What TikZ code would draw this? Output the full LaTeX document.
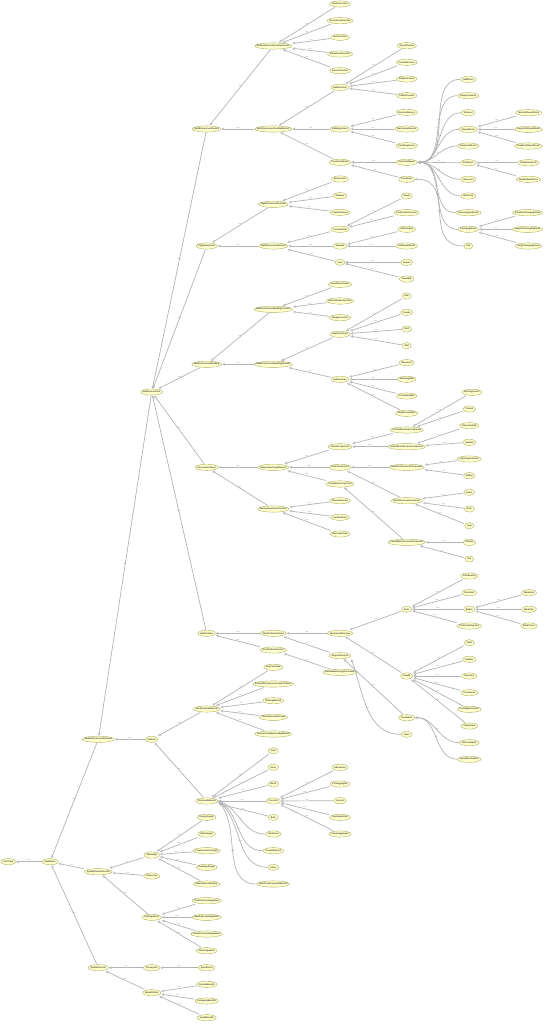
\documentclass[tikz,border=0pt]{standalone}
\usepackage{fontspec}
\newfontfamily\ogfont{Liberation Sans}
\usetikzlibrary{arrows.meta,calc}
\definecolor{nfill}{RGB}{255,255,204}
\definecolor{nline}{RGB}{175,175,105}
\definecolor{eline}{RGB}{180,180,180}
\definecolor{ltext}{RGB}{120,120,120}
\newcommand\ogsize{\ogfont\fontsize{2.25pt}{2.6pt}\selectfont}
\newcommand\onode[4]{\node[obox] (#1) at (#2,#3) {#4};}
\newcommand\isa[2]{\draw[isa] (#1) -- node[lbl]{is-a} (#2);}
\newcommand\isac[3]{\draw[isa] (#1) to[#3] node[lbl]{is-a} (#2);}
\tikzset{
 obox/.style={rectangle, inner xsep=2.6pt, inner ysep=0pt, minimum height=6.6pt, font=\ogsize, text=black,
   path picture={\path[fill=nfill, draw=nline, line width=0.4pt] let \p1=(path picture bounding box.south west), \p2=(path picture bounding box.north east) in ($(\p1)!0.5!(\p2)$) ellipse ({(\x2-\x1)/2-0.2pt} and {(\y2-\y1)/2-0.2pt});}},
 isa/.style={draw=eline, line width=0.7pt, -{Triangle[open, length=2.6pt, width=2.6pt, line width=0.45pt]}},
 lbl/.style={font=\ogfont\fontsize{1.7pt}{2pt}\selectfont, text=ltext, inner sep=0.4pt, above}
}
\begin{document}
\begin{tikzpicture}[x=1pt,y=-1pt]
\useasboundingbox[fill=white] (0,0) rectangle (549,1024);
% ---- spine
\onode{thing}{8.3}{861.7}{owl:Thing}
\onode{sp}{50}{861.7}{SpatialPlan}
\onode{spde}{98.3}{739.3}{SpatialPlanDomainElement}
\onode{spsd}{98.3}{871.7}{SpatialPlanSiteDomain}
\onode{spu}{98.3}{967.7}{SpatialPlanUse}
\onode{be}{151.7}{392}{BuiltEnvironment}
\onode{mat}{151.7}{739.3}{Material}
\onode{bef}{206.7}{129}{BuiltEnvironmentFacility}
\onode{dp}{206.7}{246}{DigitalPavement}
\onode{beb}{206.7}{364.3}{BuiltEnvironmentBuilding}
\onode{ot}{206.7}{467.3}{ObservationTower}
\onode{wt}{206.7}{633.3}{WindTurbine}
% ---- facility
\onode{beff}{273.3}{46}{BuiltEnvironmentFacilityFunction}
\onode{befe}{273.3}{129}{BuiltEnvironmentFacilityElement}
\onode{ff1}{340}{4}{ShelterFunction}
\onode{ff2}{340}{20.7}{RecreationalFunction}
\onode{ff3}{340}{37.3}{SportFunction}
\onode{ff4}{340}{54}{EducationalFunction}
\onode{ff5}{340}{70.7}{ServiceFunction}
\onode{bs}{340}{87.3}{BuiltStructure}
\onode{bsv}{340}{129}{BuildingService}
\onode{fs}{340}{162.3}{FunctionalSpace}
\onode{bs1}{406.7}{45.7}{OpenStructure}
\onode{bs2}{406.7}{62.3}{ClosedStructure}
\onode{bs3}{406.7}{79}{ShadeStructure}
\onode{bs4}{406.7}{95.7}{TrafficStructure}
\onode{sv1}{406.7}{112.3}{ElectricalService}
\onode{sv2}{406.7}{129}{MechanicalService}
\onode{sv3}{406.7}{145.7}{PlumbingService}
\onode{hs}{406.7}{162.3}{HorizontalSpace}
\onode{fsp}{406.7}{179.3}{FreeSpace}
\onode{unit}{468.3}{246}{Unit}
\onode{h1}{468.3}{79.3}{StaffRoom}
\onode{h2}{468.3}{95.7}{ReceptionRoom}
\onode{h3}{468.3}{112.7}{Entrance}
\onode{h4}{468.3}{129.3}{SharedRoom}
\onode{h5}{468.3}{146}{EquipmentRoom}
\onode{h6}{468.3}{162.7}{RestRoom}
\onode{h7}{468.3}{179.3}{Storeroom}
\onode{h8}{468.3}{196}{Workshop}
\onode{h9}{468.3}{212.7}{CleaningAgentRoom}
\onode{h10}{468.3}{229.3}{ChangingRoom}
\onode{sh1}{528.5}{112.7}{TwoUnitSharedRoom}
\onode{sh2}{528.5}{129.3}{LargeUnitSharedRoom}
\onode{sh3}{528.5}{146}{SmallUnitSharedRoom}
\onode{rr1}{528.5}{162.7}{SingleRestRoom}
\onode{rr2}{528.5}{179.3}{DisabledRestRoom}
\onode{cr1}{527.5}{212.7}{SmallUnitChangingRoom}
\onode{cr2}{527.5}{229.3}{LargeUnitChangingRoom}
\onode{cr3}{528.5}{246}{SingleChangingRoom}
% ---- pavement
\onode{dpf}{273.3}{204.3}{DigitalPavementFunction}
\onode{dpe}{273.3}{246}{DigitalPavementElement}
\onode{pf1}{340}{179}{BicycleLane}
\onode{pf2}{340}{195.7}{Walkway}
\onode{pf3}{340}{212.3}{PedestrianArea}
\onode{cs}{340}{229.3}{ConcreteSlab}
\onode{sb}{340}{246}{Subbase}
\onode{jt}{340}{262.3}{Joint}
\onode{cs1}{406.7}{196}{Dowel}
\onode{cs2}{406.7}{212.7}{FirstProtectionLayer}
\onode{sb1}{406.7}{229.3}{SoilCategory}
\onode{sb2}{406.7}{246}{SubbaseMaterial}
\onode{jt1}{406.7}{262.3}{Sealant}
\onode{jt2}{406.7}{279}{DowelBar}
% ---- building
\onode{bebf}{273.3}{309.3}{BuiltEnvironmentBuildingFunction}
\onode{bebe}{273.3}{364.3}{BuiltEnvironmentBuildingElement}
\onode{bf1}{340}{284.3}{AssemblyFunction}
\onode{bf2}{340}{301}{AdministrativeFunction}
\onode{bf3}{340}{317.7}{StorageFunction}
\onode{sup}{340}{334.3}{SuperStructure}
\onode{sub}{340}{379.3}{SubStructure}
\onode{su1}{406.7}{296}{Slab}
\onode{su2}{406.7}{312.3}{Facade}
\onode{su3}{406.7}{329}{Roof}
\onode{su4}{406.7}{345.7}{Wall}
\onode{sub1}{406.7}{362.7}{Basement}
\onode{sub2}{406.7}{379.3}{RetainingWall}
\onode{sub3}{406.7}{396}{FoundationWall}
\onode{sub4}{406.7}{413.3}{SingleFoundation}
% ---- observation tower
\onode{ote}{273.3}{467.3}{ObservationTowerElement}
\onode{otf}{273.3}{509}{ObservationTowerFunction}
\onode{vc}{340}{446.7}{VerticalComponent}
\onode{dc}{340}{467.3}{DeckComponent}
\onode{fc}{340}{484}{FoundationComponent}
\onode{of1}{340}{500.7}{ObservationUse}
\onode{of2}{340}{517.3}{LandmarkUse}
\onode{of3}{340}{534}{RecreationUse}
\onode{vsc}{406.7}{430}{VerticalStructuralComponent}
\onode{vnsc}{406.7}{446.7}{VerticalNonStructuralComponent}
\onode{dnsc}{406.7}{467.3}{DeckNonStructuralComponent}
\onode{dsc}{406.7}{500.7}{DeckStructuralComponent}
\onode{fsc}{406.7}{542.3}{FoundationStructuralComponent}
\onode{v1}{472}{392.3}{BracingSystem}
\onode{v2}{469.3}{409}{Column}
\onode{n1}{469.3}{425.7}{StaircaseShaft}
\onode{n2}{469.3}{442.3}{Handrail}
\onode{d1}{469.3}{459}{LightningProtection}
\onode{d2}{469.3}{475.7}{Railing}
\onode{s1}{469.3}{492.3}{Beam}
\onode{s2}{469.3}{509}{Deck}
\onode{s3}{469.3}{525.7}{Joist}
\onode{f1}{469.3}{542.3}{PileCap}
\onode{f2}{469.3}{559}{Pile}
% ---- wind turbine
\onode{wte}{273.3}{633.3}{WindTurbineElement}
\onode{wtf}{273.3}{650}{WindTurbineFunction}
\onode{ms}{340}{633.3}{MechanicalStructure}
\onode{sups}{340}{655.7}{SupportStructure}
\onode{reg}{340}{672.3}{RenewableEnergyGeneration}
\onode{rot}{406.7}{609.3}{Rotor}
\onode{nac}{406.7}{676}{Nacelle}
\onode{r1}{469.3}{576}{PitchBearing}
\onode{r2}{469.3}{592.7}{RotorHub}
\onode{bl}{469.3}{609.3}{Blades}
\onode{r4}{469.3}{626}{PitchControlSystem}
\onode{b1}{529}{592.7}{BladeOne}
\onode{b2}{529}{609.3}{BladeTwo}
\onode{b3}{529}{626}{BladeThree}
\onode{na1}{469.3}{642.7}{Shaft}
\onode{na2}{469.3}{659.3}{Gearbox}
\onode{na3}{469.3}{676}{Generator}
\onode{na4}{469.3}{692.7}{Transformer}
\onode{na5}{469.3}{709.3}{CoolingMechanism}
\onode{na6}{469.3}{726}{YawSystem}
\onode{fnd}{406.7}{717.7}{Foundation}
\onode{tow}{406.7}{734.3}{Tower}
\onode{fn1}{469.3}{742.7}{PileFoundation}
\onode{fn2}{469.3}{759.3}{SpreadFoundation}
% ---- material
\onode{nsm}{206.7}{709}{NonStructuralMaterial}
\onode{sm}{206.7}{801}{StructuralMaterial}
\onode{nm1}{273.3}{667.3}{Polycarbonate}
\onode{nm2}{273.3}{684}{ExtrudedPolystyreneFoamInsulation}
\onode{nm3}{273.3}{700.7}{PaintingMaterial}
\onode{nm4}{273.3}{717.3}{ThermalInsulationLayer}
\onode{nm5}{273.3}{734}{EnvironmentallyFriendlyMaterial}
\onode{sm1}{273.3}{750.7}{Steel}
\onode{sm2}{273.3}{767.3}{Stone}
\onode{sm3}{273.3}{784}{Wood}
\onode{conc}{273.3}{801}{Concrete}
\onode{sm5}{273.3}{817.3}{Brick}
\onode{sm6}{273.3}{834}{Aluminium}
\onode{sm7}{273.3}{850.7}{PrecastElement}
\onode{sm8}{273.3}{867.3}{Glass}
\onode{sm9}{273.3}{884}{ReinforcedConcreteMaterial}
\onode{c1}{340}{767.3}{Admixtures}
\onode{c2}{340}{784}{FineAggregate}
\onode{c3}{340}{800.7}{Cement}
\onode{c4}{340}{817.3}{Superplasticizer}
\onode{c5}{340}{834}{CoarseAggregate}
% ---- site
\onode{ss}{151.7}{855}{SiteSupply}
\onode{inf}{151.7}{876}{SiteAccess}
\onode{sr}{151.7}{917.3}{SiteRegulation}
\onode{sy1}{206.7}{817.3}{EnergySupply}
\onode{sy2}{206.7}{834}{WaterSupply}
\onode{sy3}{206.7}{850.7}{CommunicationSupply}
\onode{sy4}{206.7}{867.3}{DrainageSupply}
\onode{sy5}{206.7}{884}{WasteDisposalSupply}
\onode{rg1}{206.7}{900.7}{FireProtectionRegulation}
\onode{rg2}{206.7}{917.3}{BuildingCodeRegulation}
\onode{rg3}{206.7}{934}{NoiseProtectionRegulation}
\onode{rg4}{206.7}{950.7}{OtherRegulation}
\onode{pu}{151.7}{967.7}{PrimaryUse}
\onode{su}{206.7}{967.7}{SpecificUse}
\onode{bou}{151.7}{992.7}{BenefitOfUse}
\onode{bo1}{206.7}{984.3}{CulturalBenefits}
\onode{bo2}{206.7}{1001}{EcologicalBenefits}
\onode{bo3}{206.7}{1017.7}{SocialBenefits}
% ================= edges (child -> parent)
\isa{sp}{thing}
\isa{spde}{sp}\isa{spsd}{sp}\isa{spu}{sp}
\isa{be}{spde}\isa{mat}{spde}
\isa{bef}{be}\isa{dp}{be}\isa{beb}{be}\isa{ot}{be}\isa{wt}{be}
\isa{beff}{bef}\isa{befe}{bef}
\isa{ff1}{beff}\isa{ff2}{beff}\isa{ff3}{beff}\isa{ff4}{beff}\isa{ff5}{beff}
\isa{bs}{befe}\isa{bsv}{befe}\isa{fs}{befe}
\isa{bs1}{bs}\isa{bs2}{bs}\isa{bs3}{bs}\isa{bs4}{bs}
\isa{sv1}{bsv}\isa{sv2}{bsv}\isa{sv3}{bsv}
\isa{hs}{fs}\isa{fsp}{fs}
\foreach \h in {h1,h2,h3,h4,h5,h6,h7,h8,h9,h10}{\isac{\h.west}{hs.east}{out=180,in=0}}
\isac{unit.west}{fsp.east}{out=180,in=0,looseness=1.3}
\isa{sh1}{h4}\isa{sh2}{h4}\isa{sh3}{h4}
\isa{rr1}{h6}\isa{rr2}{h6}
\isa{cr1}{h10}\isa{cr2}{h10}\isa{cr3}{h10}
\isa{dpf}{dp}\isa{dpe}{dp}
\isa{pf1}{dpf}\isa{pf2}{dpf}\isa{pf3}{dpf}
\isa{cs}{dpe}\isa{sb}{dpe}\isa{jt}{dpe}
\isa{cs1}{cs}\isa{cs2}{cs}\isa{sb1}{sb}\isa{sb2}{sb}\isa{jt1}{jt}\isa{jt2}{jt}
\isa{bebf}{beb}\isa{bebe}{beb}
\isa{bf1}{bebf}\isa{bf2}{bebf}\isa{bf3}{bebf}
\isa{sup}{bebe}\isa{sub}{bebe}
\isa{su1}{sup}\isa{su2}{sup}\isa{su3}{sup}\isa{su4}{sup}
\isa{sub1}{sub}\isa{sub2}{sub}\isa{sub3}{sub}\isa{sub4}{sub}
\isa{ote}{ot}\isa{otf}{ot}
\isa{vc}{ote}\isa{dc}{ote}\isa{fc}{ote}
\isa{of1}{otf}\isa{of2}{otf}\isa{of3}{otf}
\isa{vsc}{vc}\isa{vnsc}{vc}\isa{dnsc}{dc}\isa{dsc}{dc}\isa{fsc}{fc}
\isa{v1}{vsc}\isa{v2}{vsc}\isa{n1}{vnsc}\isa{n2}{vnsc}
\isa{d1}{dnsc}\isa{d2}{dnsc}
\isa{s1}{dsc}\isa{s2}{dsc}\isa{s3}{dsc}
\isa{f1}{fsc}\isa{f2}{fsc}
\isa{wte}{wt}\isa{wtf}{wt}
\isa{ms}{wte}\isa{sups}{wte}\isa{reg}{wtf}
\isa{rot}{ms}\isa{nac}{ms}
\isa{r1}{rot}\isa{r2}{rot}\isa{bl}{rot}\isa{r4}{rot}
\isa{b1}{bl}\isa{b2}{bl}\isa{b3}{bl}
\isa{na1}{nac}\isa{na2}{nac}\isa{na3}{nac}\isa{na4}{nac}\isa{na5}{nac}\isa{na6}{nac}
\isa{fnd}{sups}
\isac{tow.west}{sups.south east}{out=180,in=-70}
\isac{fn1.west}{fnd.east}{out=180,in=0}\isac{fn2.west}{fnd.east}{out=180,in=0}
\isa{nsm}{mat}\isa{sm}{mat}
\isa{nm1}{nsm}\isa{nm2}{nsm}\isa{nm3}{nsm}\isa{nm4}{nsm}\isa{nm5}{nsm}
\isa{sm1}{sm}\isa{sm2}{sm}\isa{sm3}{sm}\isa{conc}{sm}\isa{sm5}{sm}
\isac{sm6.west}{sm.east}{out=180,in=-20}\isac{sm7.west}{sm.east}{out=180,in=-30}
\isac{sm8.west}{sm.east}{out=180,in=-40}\isac{sm9.west}{sm.east}{out=180,in=-50}
\isa{c1}{conc}\isa{c2}{conc}\isa{c3}{conc}\isa{c4}{conc}\isa{c5}{conc}
\isa{ss}{spsd}\isa{inf}{spsd}\isa{sr}{spsd}
\isa{sy1}{ss}\isa{sy2}{ss}\isa{sy3}{ss}\isa{sy4}{ss}\isa{sy5}{ss}
\isa{rg1}{sr}\isa{rg2}{sr}\isa{rg3}{sr}\isa{rg4}{sr}
\isa{pu}{spu}\isa{bou}{spu}\isa{su}{pu}
\isa{bo1}{bou}\isa{bo2}{bou}\isa{bo3}{bou}
\end{tikzpicture}
\end{document}
